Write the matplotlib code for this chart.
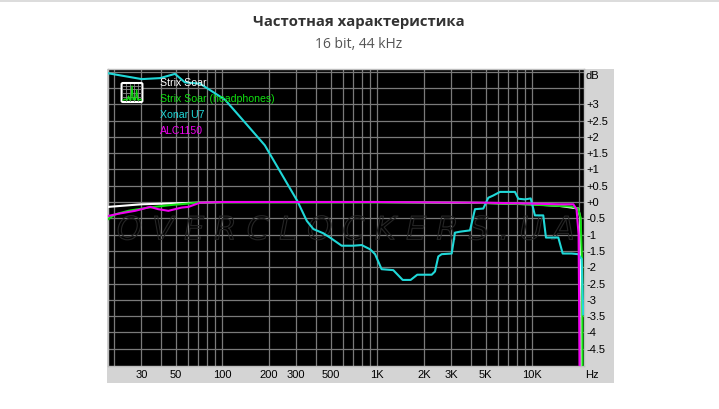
import matplotlib
matplotlib.use("Agg")
import matplotlib.pyplot as plt
from matplotlib.patches import Rectangle, FancyBboxPatch
import matplotlib.patheffects as pe

# ---------------- data ----------------
title = "Частотная характеристика"
subtitle = "16 bit, 44 kHz"

series_names = ["Strix Soar", "Strix Soar (headphones)", "Xonar U7", "ALC1150"]
series_colors = ["#ffffff", "#10e010", "#20d8d8", "#f000f0"]

grid_freqs = [20, 30, 40, 50, 60, 70, 80, 90,
              100, 200, 300, 400, 500, 600, 700, 800, 900,
              1000, 2000, 3000, 4000, 5000, 6000, 7000, 8000, 9000,
              10000, 20000]
x_tick_freqs = [30, 50, 100, 200, 300, 500, 1000, 2000, 3000, 5000, 10000]
x_tick_labels = ["30", "50", "100", "200", "300", "500", "1K", "2K", "3K", "5K", "10K"]

y_grid = [-4.5, -4, -3.5, -3, -2.5, -2, -1.5, -1, -0.5, 0, 0.5, 1, 1.5, 2, 2.5, 3, 3.5, 4]
y_tick_vals = [3, 2.5, 2, 1.5, 1, 0.5, 0, -0.5, -1, -1.5, -2, -2.5, -3, -3.5, -4, -4.5]
y_tick_labels = ["+3", "+2.5", "+2", "+1.5", "+1", "+0.5", "+0", "-0.5", "-1",
                 "-1.5", "-2", "-2.5", "-3", "-3.5", "-4", "-4.5"]

strix_f = [18.3, 30, 70, 100, 1000, 5000, 10000, 15000, 19800, 20400, 20700, 20750]
strix_db = [-0.15, -0.07, -0.02, 0.0, 0.0, -0.03, -0.07, -0.12, -0.2, -0.5, -3.0, -6.0]

hp_f = [18.3, 20.3, 24.8, 33.4, 47.2, 70, 100, 1000, 3000, 6000, 8000, 10000,
        15000, 18000, 19800, 20500, 21000, 21100]
hp_db = [-0.53, -0.38, -0.27, -0.17, -0.09, -0.02, -0.01, -0.01, -0.01, -0.04, -0.06, -0.08,
         -0.12, -0.14, -0.21, -0.48, -2.0, -6.0]

xonar_f = [18.3, 30.2, 39.6, 49.5, 57.4, 71.8, 104, 140, 188, 305, 351, 387, 449, 495,
           589, 700, 793, 898, 967, 1066, 1268, 1458, 1641, 1811, 2244, 2356, 2475,
           2602, 3020, 3170, 3418, 3963, 4268, 4830, 5200, 5600, 6190, 7730, 8130,
           8970, 9770, 10400, 11770, 12250, 14720, 15710, 17950, 19800, 20840, 21300]
xonar_db = [3.95, 3.77, 3.80, 3.93, 3.67, 3.63, 3.14, 2.44, 1.74, 0.03, -0.58, -0.83,
            -0.96, -1.09, -1.34, -1.34, -1.32, -1.45, -1.60, -2.06, -2.09, -2.39, -2.39,
            -2.23, -2.23, -2.13, -1.67, -1.60, -1.58, -0.94, -0.91, -0.87, -0.22, -0.20,
            0.13, 0.20, 0.31, 0.31, 0.10, 0.08, 0.11, -0.41, -0.41, -1.09, -1.09, -1.58,
            -1.58, -1.60, -1.75, -3.45]

alc_f = [18.3, 21.3, 27.4, 34.2, 38.6, 44.9, 54.7, 60.4, 71.8, 100, 1000, 5000,
         10000, 15000, 18400, 19300, 19900, 20250]
alc_db = [-0.43, -0.36, -0.27, -0.15, -0.22, -0.27, -0.17, -0.15, -0.02, 0.0, 0.0, -0.02,
          -0.05, -0.07, -0.07, -0.22, -1.0, -6.0]

icon_x = [0, 1, 2, 3, 4, 5, 6, 7, 8, 9, 10, 11, 12, 13, 14, 15, 16]
icon_y = [1, 1, 1.5, 1, 1, 3, 1, 1, 8, 1, 2, 1, 6, 1, 1, 1.5, 1]

# ---------------- figure ----------------
W, H = 719, 409
fig = plt.figure(figsize=(W / 100, H / 100), dpi=100)
fig.patch.set_facecolor("white")

def fx(px):
    return px / W

def fy(py):
    return 1 - py / H

# top thin line
fig.add_artist(Rectangle((0, fy(2)), 1, 2 / H, transform=fig.transFigure,
                         facecolor="#dcdcdc", edgecolor="none"))
# gray panel
fig.add_artist(Rectangle((fx(107), fy(383)), (614 - 107) / W, (383 - 69) / H,
                         transform=fig.transFigure, facecolor="#d4d4d4",
                         edgecolor="none", zorder=0))

fig.text(fx(359), fy(22), title, ha="center", va="center", fontsize=10.7,
         fontweight="bold", color="#333333", family="Open Sans")
fig.text(fx(359), fy(44), subtitle, ha="center", va="center", fontsize=10,
         color="#555555", family="Open Sans")

L, R, T, B = 108, 584, 69, 366
ax = fig.add_axes([fx(L), fy(B), (R - L) / W, (B - T) / H])
ax.set_facecolor("black")
ax.set_xscale("log")
ax.set_xlim(18.3, 21560)
ax.set_ylim(-5.03, 4.08)

for f in grid_freqs:
    ax.axvline(f, color="#7a7a7a", lw=0.9, zorder=1)
for v in y_grid:
    ax.axhline(v, color="#7a7a7a", lw=0.9, zorder=1)

ax.minorticks_off()
ax.set_xticks(x_tick_freqs)
ax.set_xticklabels(x_tick_labels, family="Liberation Sans", fontsize=8)
ax.yaxis.tick_right()
ax.set_yticks(y_tick_vals)
ax.set_yticklabels(y_tick_labels, family="Liberation Sans", fontsize=8, ha="left")
ax.tick_params(axis="both", length=0, colors="black")
ax.tick_params(axis="x", pad=3)
ax.tick_params(axis="y", pad=2)
for s in ax.spines.values():
    s.set_color("#bdbdbd")
    s.set_linewidth(1)

# faint outlined watermark inside plot area
ax.text(0.5, 0.455, "O V E R C L O C K E R S . U A", transform=ax.transAxes,
        ha="center", va="center", fontsize=23, style="italic", color=(0, 0, 0, 0),
        family="DejaVu Sans", zorder=1.5, clip_on=True,
        path_effects=[pe.withStroke(linewidth=0.8, foreground="#262626")])

all_f = [strix_f, hp_f, xonar_f, alc_f]
all_db = [strix_db, hp_db, xonar_db, alc_db]
for f, d, c in zip(all_f, all_db, series_colors):
    ax.plot(f, d, color=c, lw=1.5, zorder=3, solid_joinstyle="round")

ax.text(1.004, 3.85, "dB", transform=ax.get_yaxis_transform(), ha="left",
        va="center", fontsize=8, family="Liberation Sans")
fig.text(fx(585), fy(375), "Hz", ha="left", va="center", fontsize=8,
         family="Liberation Sans")

# legend text
for i, (n, c) in enumerate(zip(series_names, series_colors)):
    fig.text(fx(160), fy(83.5 + i * 16), n, color=c, fontsize=7.6,
             family="Liberation Sans", ha="left", va="center", zorder=5)

# legend icon
iax = fig.add_axes([fx(121), fy(103), 22 / W, 21 / H])
iax.set_xlim(-1.5, 17.5)
iax.set_ylim(-0.5, 10)
iax.axis("off")
iax.add_patch(FancyBboxPatch((-1.0, 0.0), 18, 9.5, boxstyle="round,pad=0,rounding_size=1.2",
                             facecolor="black", edgecolor="white", lw=1.5, clip_on=False,
                             mutation_aspect=0.5))
for gx in [2.5, 6, 9.5, 13]:
    iax.plot([gx, gx], [0.5, 9], color="#8a8a8a", lw=0.6)
for gy in [2.5, 4.5, 6.5, 8.2]:
    iax.plot([0, 16], [gy, gy], color="#8a8a8a", lw=0.6)
iax.plot(icon_x, icon_y, color="#10e010", lw=0.9)

fig.savefig("out.png", dpi=100)
